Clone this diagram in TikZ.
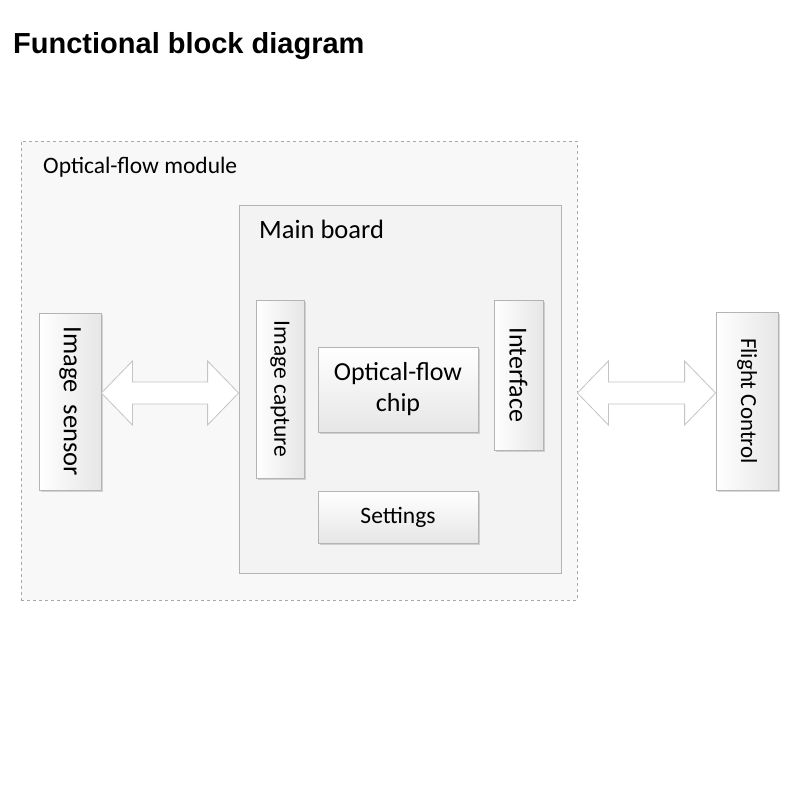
\documentclass[tikz,border=0pt]{standalone}
\usepackage{fontspec}
\setmainfont{Carlito}
\newfontfamily\titlefont{Liberation Sans}
\usetikzlibrary{calc, shadows}
\definecolor{BoxLine}{HTML}{B4B4B4}
\definecolor{BoxLow}{HTML}{E6E6E6}
\definecolor{BoardFill}{HTML}{F3F3F3}
\definecolor{ModuleFill}{HTML}{F8F8F8}
\definecolor{ModuleLine}{HTML}{A8A8A8}
\definecolor{ArrowLine}{HTML}{C4C4C4}
\tikzset{
    % Block styles
    module/.style={
        rectangle,
        draw=ModuleLine,
        dashed,
        fill=ModuleFill,
        line width=0.8pt
    },
    board/.style={
        rectangle,
        draw=BoxLine,
        fill=BoardFill,
        line width=0.8pt
    },
    block/.style={
        rectangle,
        draw=BoxLine,
        top color=white,
        bottom color=BoxLow,
        line width=0.8pt,
        align=center,
        inner sep=0pt,
        drop shadow={shadow xshift=2pt, shadow yshift=-2pt, opacity=0.25, fill=black!60}
    },
    vblock/.style={
        block,
        rotate=-90,
        shading angle=90
    },
    % Label style
    caption/.style={
        anchor=base west,
        inner sep=0pt
    },
    % Double arrow outline
    bigarrow/.style={
        draw=ArrowLine,
        fill=white,
        line width=0.8pt,
        line join=miter
    }
}

\begin{document}
\begin{tikzpicture}[x=1pt, y=-1pt]
    \useasboundingbox[fill=white] (0,0) rectangle (800,800);

    \node[caption, font=\titlefont\fontsize{29}{34}\selectfont\bfseries] (title) at (13,53) {Functional block diagram};

    % Containers
    \node[module, minimum width=556pt, minimum height=459pt] (module) at (299,370.5) {};
    \node[caption, font=\fontsize{23.5}{28}\selectfont] (modlabel) at (43,173) {Optical-flow module};

    \node[board, minimum width=322pt, minimum height=368pt] (main) at (400,389) {};
    \node[caption, font=\fontsize{26.5}{32}\selectfont] (mainlabel) at (259,238) {Main board};

    % Blocks
    \node[vblock, minimum width=177pt, minimum height=62pt, font=\fontsize{26.5}{32}\selectfont] (sensor) at (70,401.5) {Image\ \ sensor};
    \node[vblock, minimum width=178pt, minimum height=48pt, font=\fontsize{23.5}{28}\selectfont] (capture) at (280,389) {Image capture};
    \node[block, minimum width=160pt, minimum height=85pt, font=\fontsize{26}{31}\selectfont] (chip) at (398,389.5) {Optical-flow\\chip};
    \node[vblock, minimum width=150pt, minimum height=49pt, font=\fontsize{26}{31}\selectfont] (iface) at (518.5,375) {Interface};
    \node[block, minimum width=160pt, minimum height=52pt, font=\fontsize{23.5}{28}\selectfont] (settings) at (398,517) {Settings};
    \node[vblock, minimum width=178pt, minimum height=62pt, font=\fontsize{23}{28}\selectfont] (flight) at (747,401) {Flight Control};

    % Double arrows
    \coordinate (la) at (sensor.north |- 0,393);
    \coordinate (lb) at (main.west |- 0,393);
    \coordinate (ra) at (module.east |- 0,393);
    \coordinate (rb) at (flight.south |- 0,393);

    \draw[bigarrow] (la) -- ++(31,-32) -- ++(0,21) -- ($(lb)+(-31,-11)$) -- ++(0,-21) -- (lb)
        -- ++(-31,32) -- ++(0,-21) -- ($(la)+(31,11)$) -- ++(0,21) -- cycle;
    \draw[bigarrow] (ra) -- ++(31,-32) -- ++(0,21) -- ($(rb)+(-31,-11)$) -- ++(0,-21) -- (rb)
        -- ++(-31,32) -- ++(0,-21) -- ($(ra)+(31,11)$) -- ++(0,21) -- cycle;
\end{tikzpicture}
\end{document}
